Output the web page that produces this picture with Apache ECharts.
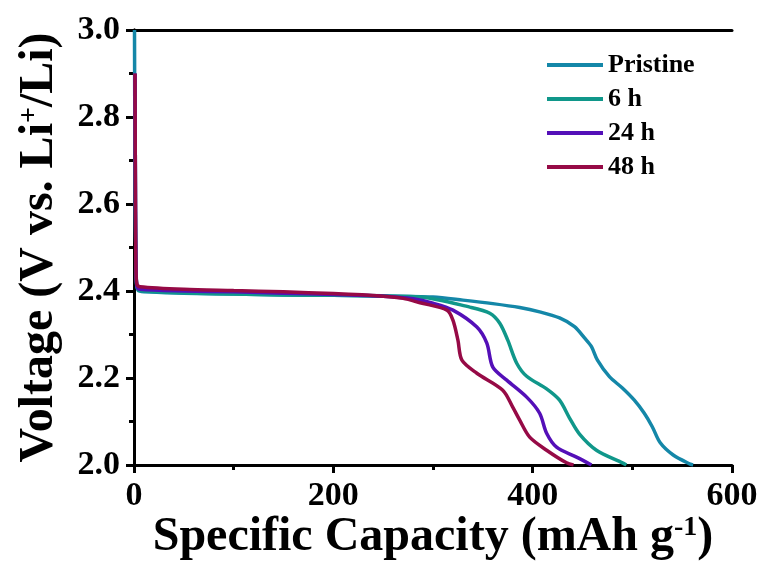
<!DOCTYPE html>
<html><head><meta charset="utf-8">
<script src="https://cdn.jsdelivr.net/npm/echarts@6/dist/echarts.min.js"></script>
<style>html,body{margin:0;padding:0;background:#fff}#c{width:763px;height:561px}</style>
</head><body><div id="c"></div>
<script>
const seriesNames = ['Pristine', '6 h', '24 h', '48 h'];
const colors = ['#1487a8', '#10978a', '#540fb8', '#960a46'];

const pristineCap = [0.5, 0.8, 1.2, 1.8, 2.5, 4, 10, 50, 100, 150, 200, 250, 300, 330, 360, 387, 407, 427, 442, 452, 459, 465, 477, 490, 502, 512, 520, 528, 541, 558, 561];
const pristineV   = [3.0, 2.8, 2.6, 2.5, 2.42, 2.402, 2.398, 2.395, 2.393, 2.391, 2.39, 2.389, 2.386, 2.379, 2.371, 2.362, 2.352, 2.338, 2.318, 2.292, 2.272, 2.241, 2.203, 2.177, 2.149, 2.119, 2.088, 2.051, 2.023, 2.002, 2.0];

const h6Cap = [1, 1.5, 2, 3, 6, 50, 100, 150, 200, 250, 287, 337, 357, 367, 375, 384, 394, 414, 427, 437, 447, 464, 490, 494];
const h6V   = [2.9, 2.6, 2.45, 2.41, 2.401, 2.396, 2.393, 2.391, 2.39, 2.388, 2.386, 2.363, 2.349, 2.326, 2.287, 2.234, 2.204, 2.175, 2.149, 2.108, 2.071, 2.034, 2.005, 2.0];

const h24Cap = [1, 1.5, 2, 3, 6, 50, 100, 150, 200, 250, 280, 300, 320, 344, 354, 360, 374, 394, 407, 414, 424, 444, 459];
const h24V   = [2.9, 2.6, 2.45, 2.41, 2.404, 2.4, 2.398, 2.395, 2.392, 2.388, 2.382, 2.372, 2.356, 2.317, 2.28, 2.225, 2.195, 2.156, 2.119, 2.073, 2.041, 2.018, 2.0];

const h48Cap = [1, 1.5, 2, 3, 6, 50, 100, 150, 200, 250, 270, 287, 314, 320, 325, 329, 344, 370, 380, 387, 397, 414, 434, 441];
const h48V   = [2.9, 2.6, 2.45, 2.415, 2.41, 2.404, 2.401, 2.398, 2.394, 2.388, 2.383, 2.373, 2.356, 2.333, 2.287, 2.241, 2.211, 2.172, 2.133, 2.103, 2.064, 2.034, 2.005, 2.0];

const caps = [pristineCap, h6Cap, h24Cap, h48Cap];
const volts = [pristineV, h6V, h24V, h48V];

const font = '"Liberation Serif", "Times New Roman", serif';
const chart = echarts.init(document.getElementById('c'), null, {renderer: 'canvas'});
const axisLine = {show: true, lineStyle: {color: '#000', width: 3}};
chart.setOption({
  animation: false,
  backgroundColor: '#fff',
  grid: {left: 134, right: 31, top: 30, bottom: 96, containLabel: false, outerBoundsMode: 'none'},
  legend: {
    orient: 'vertical', left: 547, top: 52, padding: 0,
    itemWidth: 56, itemHeight: 4, itemGap: 8, icon: 'rect',
    data: seriesNames,
    textStyle: {fontFamily: font, fontWeight: 'bold', fontSize: 26, color: '#000', lineHeight: 26}
  },
  xAxis: [{
    type: 'value', min: 0, max: 600, interval: 200,
    axisLine: axisLine,
    axisTick: {show: true, inside: false, length: 8, lineStyle: {width: 3, color: '#000'}},
    minorTick: {show: true, splitNumber: 2, length: 5, lineStyle: {width: 3, color: '#000'}},
    splitLine: {show: false},
    axisLabel: {fontFamily: font, fontWeight: 'bold', fontSize: 34, color: '#000', margin: 14},
    name: '{a|Specific Capacity (mAh g}{s|-1}{a|)}',
    nameLocation: 'middle', nameGap: 49, nameMoveOverlap: false,
    nameTextStyle: {rich: {
      a: {fontFamily: font, fontWeight: 'bold', fontSize: 48, color: '#000', lineHeight: 48},
      s: {fontFamily: font, fontWeight: 'bold', fontSize: 28, color: '#000', verticalAlign: 'top', lineHeight: 30}
    }}
  }, {
    type: 'value', position: 'top', min: 0, max: 600,
    axisLine: axisLine, axisTick: {show: false}, axisLabel: {show: false}, splitLine: {show: false}
  }],
  yAxis: [{
    type: 'value', min: 2.0, max: 3.0, interval: 0.2,
    axisLine: axisLine,
    axisTick: {show: true, inside: false, length: 8, lineStyle: {width: 3, color: '#000'}},
    minorTick: {show: true, splitNumber: 2, length: 5, lineStyle: {width: 3, color: '#000'}},
    splitLine: {show: false},
    axisLabel: {fontFamily: font, fontWeight: 'bold', fontSize: 34, color: '#000', margin: 14,
      formatter: v => v.toFixed(1)},
    name: '{a|Voltage (V vs. Li}{s|+}{a|/Li)}',
    nameLocation: 'middle', nameGap: 70, nameRotate: 90, nameMoveOverlap: false,
    nameTextStyle: {rich: {
      a: {fontFamily: font, fontWeight: 'bold', fontSize: 48, color: '#000', lineHeight: 48},
      s: {fontFamily: font, fontWeight: 'bold', fontSize: 28, color: '#000', verticalAlign: 'top', lineHeight: 30}
    }}
  }, {
    type: 'value', position: 'right', min: 2.0, max: 3.0,
    axisLine: axisLine, axisTick: {show: false}, axisLabel: {show: false}, splitLine: {show: false}
  }],
  series: seriesNames.map((n, i) => ({
    name: n, type: 'line', symbol: 'none', smooth: 0.3,
    xAxisIndex: 0, yAxisIndex: 0,
    color: colors[i],
    lineStyle: {width: 3.5, color: colors[i]},
    data: caps[i].map((c, k) => [c, volts[i][k]])
  }))
});
</script></body></html>
